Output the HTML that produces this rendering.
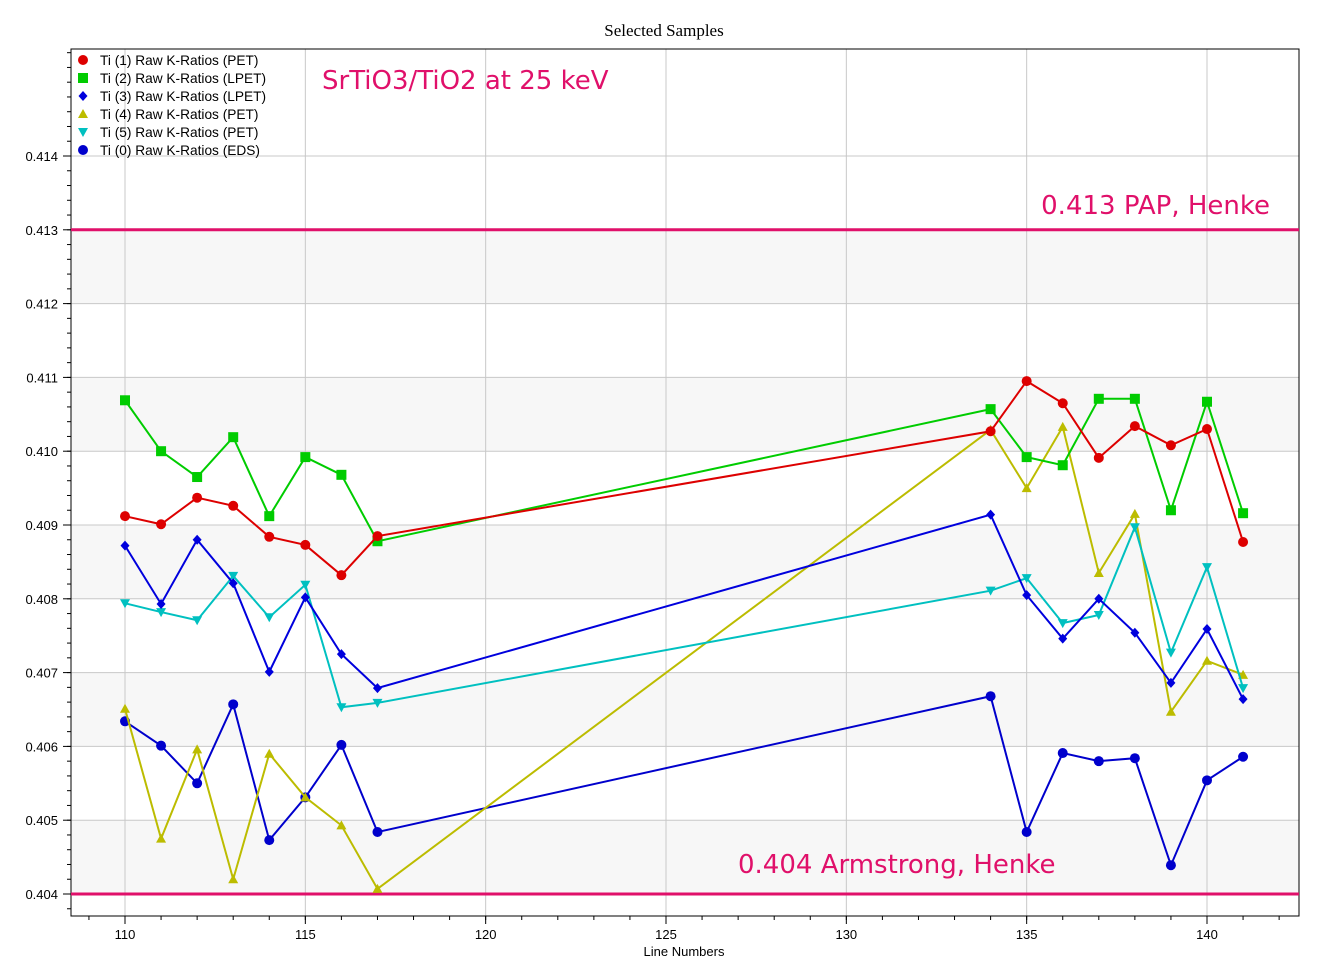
<!DOCTYPE html>
<html><head><meta charset="utf-8"><style>
body{margin:0;background:#fff;}
svg text{font-family:"Liberation Sans",sans-serif;}
</style></head><body>
<svg id="chart" width="1329" height="962" xmlns="http://www.w3.org/2000/svg">
<text x="664" y="36" text-anchor="middle" style="font-family:'Liberation Serif',serif" font-size="17">Selected Samples</text>
<g id="plot"></g>
</svg>
<script>
const xCats=[110,111,112,113,114,115,116,117,134,135,136,137,138,139,140,141];
const ti1=[.40912,.40901,.40937,.40926,.40884,.40873,.40832,.40885,.41027,.41095,.41065,.40991,.41034,.41008,.41030,.40877];
const ti2=[.41069,.41000,.40965,.41019,.40912,.40992,.40968,.40878,.41057,.40992,.40981,.41071,.41071,.40920,.41067,.40916];
const ti3=[.40872,.40793,.40880,.40821,.40701,.40802,.40725,.40679,.40914,.40805,.40746,.40800,.40754,.40686,.40759,.40664];
const ti4=[.40651,.40475,.40596,.40420,.40590,.40531,.40493,.40407,.41029,.40950,.41033,.40835,.40915,.40647,.40716,.40697];
const ti5=[.40794,.40782,.40771,.40831,.40775,.40819,.40653,.40659,.40811,.40828,.40767,.40778,.40897,.40727,.40843,.40679];
const ti0=[.40634,.40601,.40550,.40657,.40473,.40531,.40602,.40484,.40668,.40484,.40591,.40580,.40584,.40439,.40554,.40586];
const yTicks=[0.404,0.405,0.406,0.407,0.408,0.409,0.410,0.411,0.412,0.413,0.414];
const xTicks=[110,115,120,125,130,135,140];
const refLines=[0.413,0.404];
const seriesNames=["Ti (1) Raw K-Ratios (PET)","Ti (2) Raw K-Ratios (LPET)","Ti (3) Raw K-Ratios (LPET)","Ti (4) Raw K-Ratios (PET)","Ti (5) Raw K-Ratios (PET)","Ti (0) Raw K-Ratios (EDS)"];

const L=71,R=1299,T=49,B=916;
const sx=v=>125+(v-110)*(1207-125)/30;
const sy=v=>894-(v-0.404)*73800;
const NS="http://www.w3.org/2000/svg";
const g=document.getElementById('plot');
function el(t,a,p){const e=document.createElementNS(NS,t);for(const k in a)e.setAttribute(k,a[k]);(p||g).appendChild(e);return e;}

for(let i=0;i<yTicks.length-2;i+=2){
 const r=el('rect',{x:L,y:sy(yTicks[i+1]),width:R-L,height:sy(yTicks[i])-sy(yTicks[i+1]),fill:'#f7f7f7'});
 
 
}
yTicks.forEach(v=>{
 const l=el('line',{x1:L,x2:R,y1:sy(v),y2:sy(v),stroke:'#c8c8c8'});
 
 
 const t=el('text',{x:58,y:sy(v)+5,'text-anchor':'end','font-size':13});
 t.textContent=v.toFixed(3);
 
 
 el('line',{x1:L-8,x2:L,y1:sy(v),y2:sy(v),stroke:'#000'});
});
for(let v=0.4038;v<0.4154;v+=0.0002){el('line',{x1:L-4,x2:L,y1:sy(v),y2:sy(v),stroke:'#000'});}
xTicks.forEach(v=>{
 const l=el('line',{x1:sx(v),x2:sx(v),y1:T,y2:B,stroke:'#c8c8c8'});
 
 
 const t=el('text',{x:sx(v),y:939,'text-anchor':'middle','font-size':13});
 t.textContent=v;
 
 
 el('line',{x1:sx(v),x2:sx(v),y1:B,y2:B+8,stroke:'#000'});
});
for(let v=109;v<=142;v++){el('line',{x1:sx(v),x2:sx(v),y1:B,y2:B+4,stroke:'#000'});}
const frame=el('rect',{x:L,y:T,width:R-L,height:B-T,fill:'none',stroke:'#000'});


const xt=el('text',{x:684,y:956,'text-anchor':'middle','font-size':13});
xt.textContent='Line Numbers';


refLines.forEach(v=>{
 const l=el('line',{x1:L,x2:R,y1:sy(v),y2:sy(v),stroke:'#e0106a','stroke-width':3});
 
 
});
function ann(x,y,txt,name,anchor){const t=el('text',{x:x,y:y,'font-size':26,fill:'#e0106a','text-anchor':anchor||'start',style:"font-family:'DejaVu Sans',sans-serif"});t.textContent=txt;
 
 }
ann(1270,214,'0.413 PAP, Henke','annotation-pap','end');
ann(738,873,'0.404 Armstrong, Henke','annotation-armstrong');
ann(322,89,'SrTiO3/TiO2 at 25 keV','annotation-title');

function marker(shape,x,y,c,parent){
 if(shape==='circle')return el('circle',{cx:x,cy:y,r:5,fill:c},parent);
 if(shape==='square')return el('rect',{x:x-5,y:y-5,width:10,height:10,fill:c},parent);
 if(shape==='diamond')return el('polygon',{points:`${x},${y-5} ${x+4.5},${y} ${x},${y+5} ${x-4.5},${y}`,fill:c},parent);
 if(shape==='up')return el('polygon',{points:`${x},${y-5} ${x+5},${y+4} ${x-5},${y+4}`,fill:c},parent);
 if(shape==='down')return el('polygon',{points:`${x-5},${y-4} ${x+5},${y-4} ${x},${y+5}`,fill:c},parent);
}
const series=[[ti0,'#0000cc','circle','ti0'],[ti4,'#bcbc00','up','ti4'],[ti5,'#00c0c0','down','ti5'],[ti3,'#0000dd','diamond','ti3'],[ti2,'#00cc00','square','ti2'],[ti1,'#dd0000','circle','ti1']];
series.forEach(([d,c,s,n])=>{
 const sg=el('g',{});
 
 
 const pl=el('polyline',{points:d.map((v,i)=>sx(xCats[i])+','+sy(v)).join(' '),fill:'none',stroke:c,'stroke-width':2},sg);
 
 
 d.forEach((v,i)=>{const m=marker(s,sx(xCats[i]),sy(v),c,sg);
  
  });
});
const lc=[['#dd0000','circle'],['#00cc00','square'],['#0000dd','diamond'],['#bcbc00','up'],['#00c0c0','down'],['#0000cc','circle']];
seriesNames.forEach((nm,i)=>{
 const lg=el('g',{});
 
 
 const y=60+i*18;
 marker(lc[i][1],83,y,lc[i][0],lg);
 const t=el('text',{x:100,y:y+5,'font-size':13.7},lg);
 t.textContent=nm;
});
</script>
</body></html>
